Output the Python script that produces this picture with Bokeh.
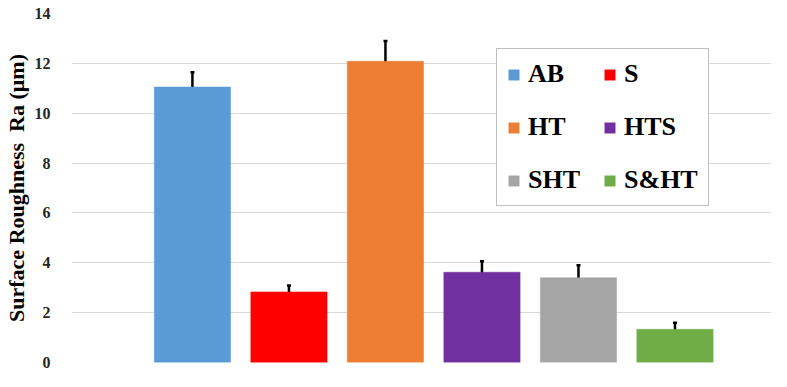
from bokeh.plotting import figure
from bokeh.models import ColumnDataSource, Legend, LegendItem, Whisker, TeeHead, FixedTicker, Range1d
from bokeh.embed import file_html
from bokeh.resources import INLINE

# Data
groups = ["AB", "S", "HT", "HTS", "SHT", "S&HT"]
ra_values = [11.05, 2.83, 12.08, 3.62, 3.40, 1.33]
ra_errors = [0.59, 0.26, 0.82, 0.44, 0.50, 0.26]
colors = ["#5B9BD5", "#FF0000", "#ED7D31", "#7030A0", "#A5A5A5", "#70AD47"]
y_ticks = [0, 2, 4, 6, 8, 10, 12, 14]

xpos = list(range(1, len(groups) + 1))
src = ColumnDataSource(dict(
    x=xpos, top=ra_values,
    upper=[v + e for v, e in zip(ra_values, ra_errors)],
    lower=[v - e for v, e in zip(ra_values, ra_errors)],
))

p = figure(width=771, height=371, output_backend="svg", toolbar_location=None,
           x_range=Range1d(-0.253, 7.0), y_range=Range1d(0, 14),
           min_border_left=67, min_border_right=0, min_border_top=13, min_border_bottom=9)
p.outline_line_color = None
p.background_fill_color = "white"

renderers = []
for i in range(len(groups)):
    r = p.vbar(x=[xpos[i]], top=[ra_values[i]], width=0.79, bottom=0,
               fill_color=colors[i], line_color=colors[i], line_alpha=0.5)
    renderers.append(r)

w = Whisker(source=src, base="x", upper="upper", lower="lower", line_color="black",
            line_width=2.5,
            upper_head=TeeHead(size=4, line_width=2.5, line_color="black"),
            lower_head=TeeHead(size=4, line_width=2.5, line_color="black"))
p.add_layout(w)

# Axes
p.xaxis.visible = False
p.xgrid.visible = False
p.ygrid.grid_line_color = "#d9d9d9"
p.ygrid.grid_line_width = 1
p.yaxis.ticker = FixedTicker(ticks=y_ticks)
p.yaxis.axis_line_color = None
p.yaxis.major_tick_line_color = None
p.yaxis.minor_tick_line_color = None
p.yaxis.major_label_text_font = "Liberation Serif"
p.yaxis.major_label_text_font_style = "bold"
p.yaxis.major_label_text_font_size = "16px"
p.yaxis.major_label_text_color = "#262626"
p.yaxis.major_label_standoff = 15
p.yaxis.axis_label = "Surface Roughness \u00a0Ra (\u03bcm)"
p.yaxis.axis_label_text_font = "Liberation Serif"
p.yaxis.axis_label_text_font_style = "bold"
p.yaxis.axis_label_text_font_size = "22px"
p.yaxis.axis_label_text_color = "black"
p.yaxis.axis_label_standoff = 3

# legend is laid out column by column: reorder so rows read AB,S / HT,HTS / SHT,S&HT
order = [0, 2, 4, 1, 3, 5]
items = [LegendItem(label=groups[i], renderers=[renderers[i]]) for i in order]
legend = Legend(items=items, ncols=2, location=(425, 156),
                label_text_font="Liberation Serif", label_text_font_style="bold",
                label_text_font_size="26px", label_text_color="black",
                glyph_width=13, glyph_height=13, label_standoff=8,
                spacing=23, padding=10, margin=0,
                border_line_color="#7f7f7f", border_line_width=1,
                background_fill_color="white", background_fill_alpha=1)
p.add_layout(legend, "center")

open("out.html", "w").write(file_html(p, INLINE))
